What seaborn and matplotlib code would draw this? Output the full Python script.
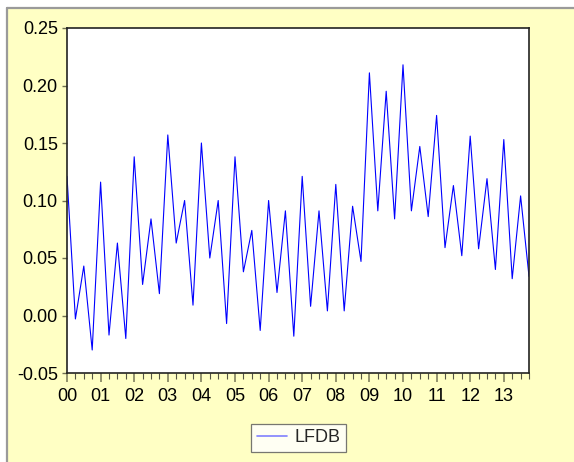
import matplotlib
matplotlib.use("Agg")
import numpy as np
import pandas as pd
import matplotlib.pyplot as plt
import seaborn as sns
from matplotlib.patches import Rectangle
from matplotlib.lines import Line2D

# quarterly series, 2000Q1 .. 2013Q4
start_year = 2000
lfdb = [
    0.121, -0.003, 0.043, -0.030,    # 2000
    0.116, -0.017, 0.063, -0.020,    # 2001
    0.138, 0.027, 0.084, 0.019,      # 2002
    0.157, 0.063, 0.100, 0.009,      # 2003
    0.150, 0.050, 0.100, -0.007,     # 2004
    0.138, 0.038, 0.074, -0.013,     # 2005
    0.100, 0.020, 0.091, -0.018,     # 2006
    0.121, 0.008, 0.091, 0.004,      # 2007
    0.114, 0.004, 0.095, 0.047,      # 2008
    0.211, 0.091, 0.195, 0.084,      # 2009
    0.218, 0.091, 0.147, 0.086,      # 2010
    0.174, 0.059, 0.113, 0.052,      # 2011
    0.156, 0.058, 0.119, 0.040,      # 2012
    0.153, 0.032, 0.104, 0.034,      # 2013
]
year_labels = [f"{y % 100:02d}" for y in range(2000, 2014)]
y_ticks = [-0.05, 0.00, 0.05, 0.10, 0.15, 0.20, 0.25]

df = pd.DataFrame({"t": start_year + np.arange(len(lfdb)) / 4, "LFDB": lfdb})

sns.set_theme(style="white")
plt.rcParams['font.family'] = ['Liberation Sans', 'DejaVu Sans']

BG = "#FFFFC4"
fig = plt.figure(figsize=(5.74, 4.62), dpi=100)
fig.patch.set_facecolor("white")

# yellow panel with grey border on top/left (EViews frame look)
fig.add_artist(Rectangle((7 / 574, 0), 1, 1 - 8 / 462, transform=fig.transFigure,
                         facecolor=BG, edgecolor="none", zorder=-10))
fig.add_artist(Line2D([7 / 574, 1], [1 - 7.5 / 462] * 2, color="#9a9a9a", lw=1.6, zorder=-5))
fig.add_artist(Line2D([6.5 / 574] * 2, [0, 1 - 7.5 / 462], color="#9a9a9a", lw=1.6, zorder=-5))

ax = fig.add_axes([67 / 574, 1 - 373 / 462, (529 - 67) / 574, (373 - 28) / 462])
ax.set_zorder(1)
ax.set_facecolor("white")

sns.lineplot(data=df, x="t", y="LFDB", ax=ax, color="#0000FF", linewidth=0.8, label="LFDB")

ax.set_xlim(df["t"].iloc[0], df["t"].iloc[-1])
ax.set_ylim(-0.05, 0.25)
ax.set_yticks(y_ticks)
ax.set_yticklabels([f"{v:.2f}" for v in y_ticks])
ax.set_xticks(np.arange(2000, 2014))
ax.set_xticklabels(year_labels)
ax.set_xticks(df["t"], minor=True)
ax.set_xlabel("")
ax.set_ylabel("")

for s in ax.spines.values():
    s.set_color("#222222")
    s.set_linewidth(1.2)

ax.tick_params(axis="y", which="major", direction="out", length=3.6, width=1,
               color="#6e6e50", labelsize=13, labelcolor="black", pad=3, left=True)
ax.tick_params(axis="x", which="major", direction="out", length=6.5, width=1.3,
               color="#8a8a66", labelsize=13, labelcolor="black", pad=4, bottom=True)
ax.tick_params(axis="x", which="minor", direction="out", length=4.3, width=0.8,
               color="#555544", bottom=True)

leg = ax.legend(loc="center", bbox_to_anchor=(298.5 / 574, 1 - 438 / 462),
                bbox_transform=fig.transFigure, frameon=True, fancybox=False,
                fontsize=13, handlelength=1.7, borderpad=0.3, handletextpad=0.4,
                borderaxespad=0)
leg.get_frame().set_edgecolor("#555555")
leg.get_frame().set_linewidth(0.9)
for line in leg.get_lines():
    line.set_color("#8080FF")
    line.set_linewidth(1.2)

fig.savefig("out.png", dpi=100, facecolor=fig.get_facecolor())
